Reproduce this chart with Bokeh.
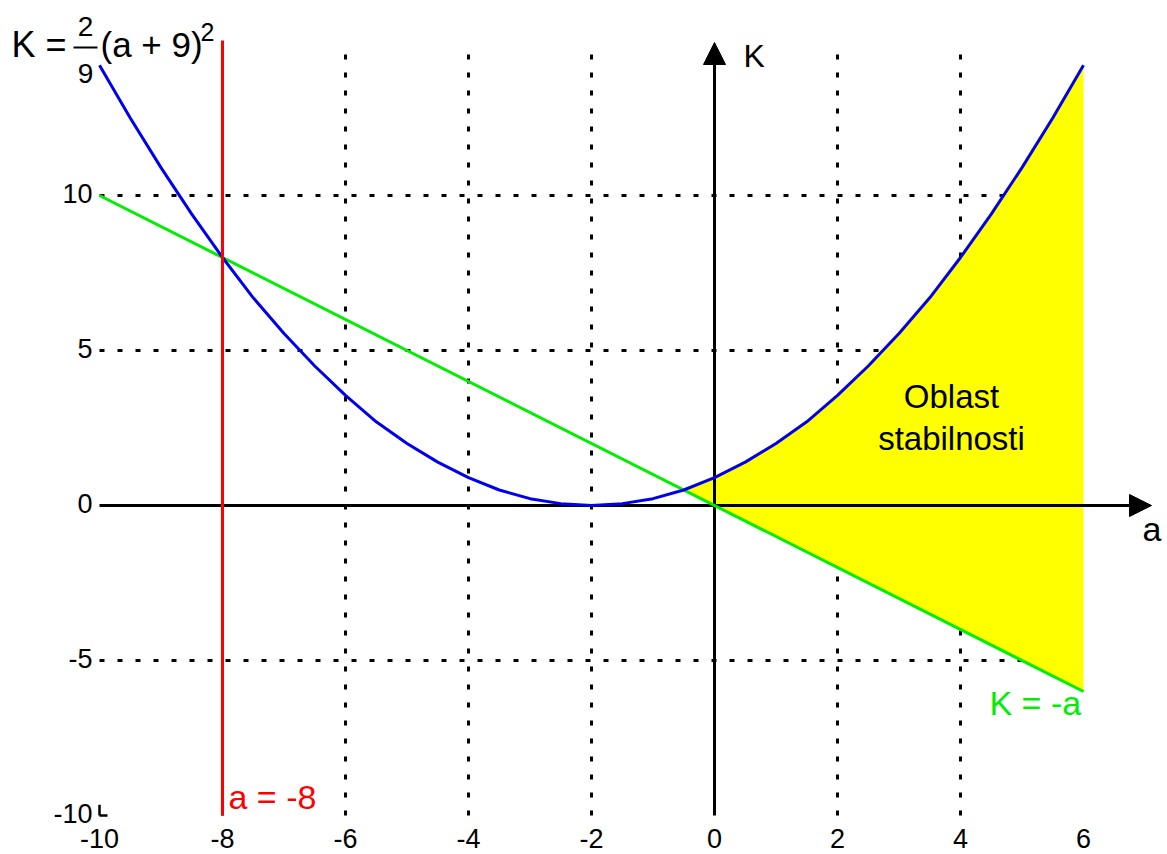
import numpy as np
from bokeh.plotting import figure
from bokeh.models import Range1d, Arrow, NormalHead
from bokeh.core.properties import value
from bokeh.embed import file_html
from bokeh.resources import INLINE

# ---- data ----
a_curve = [-10, -9.5, -9, -8.5, -8, -7.5, -7, -6.5, -6, -5.5, -5, -4.5, -4, -3.5,
           -3, -2.5, -2, -1.5, -1, -0.5, 0, 0.5, 1, 1.5, 2, 2.5, 3, 3.5, 4, 4.5,
           5, 5.5, 6]
K_curve = [14.2, 12.5, 10.9, 9.4, 8.0, 6.7, 5.55, 4.5, 3.55, 2.7, 2.0, 1.4, 0.9, 0.5,
           0.22, 0.06, 0.0, 0.06, 0.22, 0.5, 0.9, 1.4, 2.0, 2.7, 3.55, 4.5, 5.55, 6.7,
           8.0, 9.4, 10.9, 12.5, 14.2]
a_line = [-10, 6]
K_line = [10, -6]
a_red = [-8, -8]
K_red = [-10, 15]
x_ticks = [-10, -8, -6, -4, -2, 0, 2, 4, 6]
x_tick_labels = ["-10", "-8", "-6", "-4", "-2", "0", "2", "4", "6"]
y_ticks = [10, 5, 0, -5, -10]
y_tick_labels = ["10", "5", "0", "-5", "-10"]
grid_x = [-8, -6, -4, -2, 2, 4]
grid_y = [10, 5, -5]
a_min, a_max = -10, 6
K_min, K_grid_top = -10, 14.8
stable_from = -0.5   # intersection of curve and line

# ---- layout helpers (picture pixel -> data) ----
W, H = 1167, 854
def X(px):
    return (px - 714) / 61.5
def Y(py):
    return (505 - py) / 31.0

FONT = value("Liberation Sans")

p = figure(width=W, height=H, x_range=Range1d(X(0), X(W)),
           y_range=Range1d(Y(H), Y(0)), output_backend="svg",
           toolbar_location=None, min_border=0, x_axis_type=None, y_axis_type=None)
p.grid.visible = False
p.outline_line_color = None
p.background_fill_color = "white"

# dotted grid
p.segment(x0=grid_x, y0=[K_min] * len(grid_x), x1=grid_x, y1=[K_grid_top] * len(grid_x),
          line_color="black", line_width=3, line_dash="5 13")
p.segment(x0=[a_min] * len(grid_y), y0=grid_y, x1=[a_max] * len(grid_y), y1=grid_y,
          line_color="black", line_width=3, line_dash="5 13")
# small corner mark
p.segment(x0=[a_min, a_min], y0=[K_min + 0.35, K_min], x1=[a_min, a_min + 0.13], y1=[K_min, K_min],
          line_color="black", line_width=2.5)

# stability region
xs = np.array([a for a in a_curve if a >= stable_from])
upper = np.array([k for a, k in zip(a_curve, K_curve) if a >= stable_from])
lower = np.interp(xs, a_line, K_line)
p.varea(x=xs, y1=lower, y2=upper, fill_color="#FFFF00")

# axes with arrows
p.segment(x0=[a_min], y0=[0], x1=[X(1133)], y1=[0], line_color="black", line_width=3)
p.segment(x0=[0], y0=[K_min], x1=[0], y1=[Y(60)], line_color="black", line_width=3)
p.add_layout(Arrow(x_start=X(1129), y_start=0, x_end=X(1151), y_end=0, line_alpha=0,
                   end=NormalHead(size=22, fill_color="black", line_color="black", line_width=1)))
p.add_layout(Arrow(x_start=0, y_start=Y(64), x_end=0, y_end=Y(42), line_alpha=0,
                   end=NormalHead(size=22, fill_color="black", line_color="black", line_width=1)))

# lines
p.line(a_line, K_line, line_color="#00EE00", line_width=3)
p.line(a_curve, K_curve, line_color="#0000EE", line_width=3)
p.line(a_red, K_red, line_color="#FF0000", line_width=3)

def txt(xs_, ys_, labels, size, color="black", align="left", **kw):
    p.text(x=xs_, y=ys_, text=labels, text_font=FONT, text_font_size=size,
           text_align=align, text_baseline="middle", text_color=color, **kw)

# tick labels
txt(x_ticks, [Y(838)] * len(x_ticks), x_tick_labels, "27px", align="center")
txt([X(92)] * len(y_ticks), y_ticks, y_tick_labels, "27px", align="right", y_offset=-2)

# axis labels
txt([X(743)], [Y(55)], ["K"], "32px")
txt([X(1142)], [Y(528)], ["a"], "34px")

# annotations
txt([a_red[0]], [Y(796)], ["a = -8"], "34px", color="#FF0000", x_offset=6)
txt([X(989)], [Y(702)], ["K = -a"], "34px", color="#00EE00")
txt([X(951), X(951)], [Y(396), Y(438)], ["Oblast", "stabilnosti"], "33px", align="center")

# formula K = 2/9 (a+9)^2
txt([X(11)], [Y(44)], ["K ="], "36px")
txt([X(85), X(85)], [Y(26), Y(73)], ["2", "9"], "28px", align="center")
p.segment(x0=[X(73)], y0=[Y(47)], x1=[X(97)], y1=[Y(47)], line_color="black", line_width=2)
txt([X(100)], [Y(44)], ["(a + 9)"], "35px")
txt([X(200)], [Y(31)], ["2"], "25px")

open("out.html", "w").write(file_html(p, INLINE))
